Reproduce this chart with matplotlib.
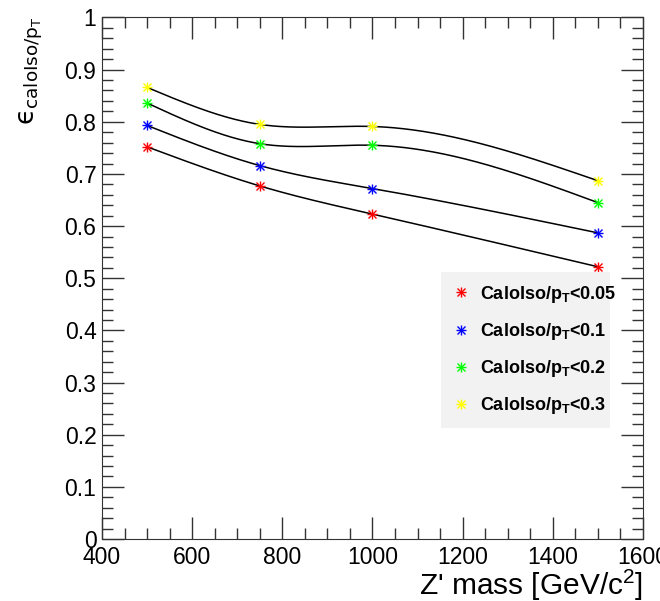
import numpy as np
import matplotlib
matplotlib.use('Agg')
import matplotlib.pyplot as plt
from matplotlib.lines import Line2D
from matplotlib.ticker import MultipleLocator
from matplotlib.legend_handler import HandlerTuple

plt.rcParams['font.family'] = ['Liberation Sans', 'DejaVu Sans']
plt.rcParams['mathtext.fontset'] = 'custom'
plt.rcParams['mathtext.rm'] = 'Liberation Sans'
plt.rcParams['mathtext.it'] = 'Liberation Sans:italic'
plt.rcParams['mathtext.bf'] = 'Liberation Sans:bold'

# Z' masses and efficiencies for each CaloIso/pT cut
masses = [500, 750, 1000, 1500]
eff_005 = [0.752, 0.677, 0.623, 0.522]
eff_01 = [0.793, 0.716, 0.672, 0.587]
eff_02 = [0.836, 0.758, 0.755, 0.645]
eff_03 = [0.866, 0.795, 0.791, 0.687]
cuts = ['0.05', '0.1', '0.2', '0.3']
colors = ['#ff0000', '#0000ff', '#00ff00', '#ffff00']


def smooth(x, y, n=300):
    # natural cubic spline through the points (like ROOT's "C" draw option)
    x = np.asarray(x, float)
    y = np.asarray(y, float)
    k = len(x)
    h = np.diff(x)
    A = np.zeros((k, k))
    b = np.zeros(k)
    A[0, 0] = A[-1, -1] = 1
    for i in range(1, k - 1):
        A[i, i - 1] = h[i - 1]
        A[i, i] = 2 * (h[i - 1] + h[i])
        A[i, i + 1] = h[i]
        b[i] = 6 * ((y[i + 1] - y[i]) / h[i] - (y[i] - y[i - 1]) / h[i - 1])
    M = np.linalg.solve(A, b)
    xs = np.linspace(x[0], x[-1], n)
    idx = np.clip(np.searchsorted(x, xs) - 1, 0, k - 2)
    x0, x1 = x[idx], x[idx + 1]
    hh = x1 - x0
    t0, t1 = x1 - xs, xs - x0
    ys = (M[idx] * t0**3 + M[idx + 1] * t1**3) / (6 * hh) \
        + (y[idx] / hh - M[idx] * hh / 6) * t0 \
        + (y[idx + 1] / hh - M[idx + 1] * hh / 6) * t1
    return xs, ys


fig = plt.figure(figsize=(6.6, 6.01), dpi=100)
ax = fig.add_axes([0.1545, 0.1032, 0.8197, 0.8677])

handles = []
labels = []
for eff, cut, c in zip([eff_005, eff_01, eff_02, eff_03], cuts, colors):
    xs, ys = smooth(masses, eff)
    ax.plot(xs, ys, color='black', lw=1.1, zorder=2)
    ax.plot(masses, eff, ls='none', marker='+', ms=7, mew=1, color=c, zorder=3)
    ax.plot(masses, eff, ls='none', marker='x', ms=5.5, mew=1, color=c, zorder=3)
    h1 = Line2D([], [], ls='none', marker='+', ms=7, mew=1, color=c)
    h2 = Line2D([], [], ls='none', marker='x', ms=5.5, mew=1, color=c)
    handles.append((h1, h2))
    labels.append('CaloIso/p$_\\mathbf{T}$<' + cut)

ax.set_xlim(400, 1600)
ax.set_ylim(0, 1)
ax.xaxis.set_major_locator(MultipleLocator(200))
ax.xaxis.set_minor_locator(MultipleLocator(50))
ax.yaxis.set_minor_locator(MultipleLocator(0.02))
ax.tick_params(which='both', direction='in', top=True, right=True, width=1, color='#333333')
ax.tick_params(which='major', length=16, labelsize=16.5)
ax.tick_params(which='minor', length=8)
ax.tick_params(axis='x', pad=5)
ax.tick_params(axis='y', pad=4)
ax.set_yticks(np.arange(0, 1.01, 0.1))
ax.set_yticklabels(['0'] + ['%.1f' % v for v in np.arange(0.1, 0.95, 0.1)] + ['1'])
for s in ax.spines.values():
    s.set_color('#333333')

ax.set_xlabel(r"Z' mass [GeV/c$^2$]", fontsize=21.5, loc='right')
ax.xaxis.set_label_coords(1.0, -0.056)
ax.set_ylabel('$\\mathrm{\u03f5}_{\\mathrm{caloIso/p_T}}$', fontsize=19, loc='top',
              math_fontfamily='dejavusans')
ax.yaxis.set_label_coords(-0.105, 1.002)

leg = ax.legend(handles, labels, handler_map={tuple: HandlerTuple(ndivide=1)},
                loc='upper left', bbox_to_anchor=(0.627, 0.2, 0.312, 0.312),
                mode='expand', prop={'size': 13, 'weight': 'bold'},
                frameon=True, fancybox=False, borderpad=0.65, labelspacing=0.9,
                handlelength=0.9, handletextpad=0.6, borderaxespad=0)
leg.get_frame().set_facecolor('#f2f2f2')
leg.get_frame().set_edgecolor('none')
leg.get_frame().set_alpha(1)

fig.savefig('out.png', dpi=100)
